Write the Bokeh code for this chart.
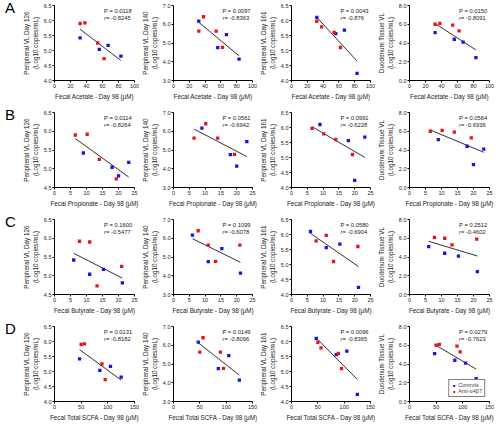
import numpy as np
from bokeh.plotting import figure
from bokeh.layouts import row, column
from bokeh.models import Div, Label, Range1d, FixedTicker, PrintfTickFormatter, Legend, LegendItem
from bokeh.embed import file_html
from bokeh.resources import INLINE

# ---- data (4 controls, 4 anti-a4b7 animals; same order in every array) ----
acetate_ctrl = [32, 56, 67, 83]
acetate_anti = [32, 38, 54, 62]
propionate_ctrl = [9, 18, 23.2, 20]
propionate_anti = [6.5, 10.2, 14, 19.3]
butyrate_ctrl = [6, 11, 15.3, 21.2]
butyrate_anti = [11, 7.8, 21, 13.3]
scfa_ctrl = [47, 85, 105, 125]
scfa_anti = [50, 56, 89, 95]

vl126_ctrl = [5.42, 5.04, 5.17, 4.81]
vl126_anti = [5.90, 5.92, 5.25, 4.73]
vl140_ctrl = [6.17, 4.75, 5.45, 4.14]
vl140_anti = [5.63, 6.40, 5.63, 4.77]
vl161_ctrl = [6.10, 5.56, 5.68, 4.24]
vl161_anti = [5.97, 5.79, 5.60, 5.10]
duo_ctrl = [5.10, 4.40, 4.10, 2.45]
duo_anti = [6.00, 6.10, 5.90, 5.30]

row_letters = ["A", "B", "C", "D"]
x_titles = ["Fecal Acetate - Day 98 (μM)", "Fecal Propionate - Day 98 (μM)",
            "Fecal Butyrate - Day 98 (μM)", "Fecal Total SCFA - Day 98 (μM)"]
x_ctrl = [acetate_ctrl, propionate_ctrl, butyrate_ctrl, scfa_ctrl]
x_anti = [acetate_anti, propionate_anti, butyrate_anti, scfa_anti]
x_ticks = [[0, 20, 40, 60, 80, 100], [0, 5, 10, 15, 20, 25],
           [0, 5, 10, 15, 20, 25], [0, 50, 100, 150]]

y_titles = ["Peripheral VL Day 126", "Peripheral VL Day 140",
            "Peripheral VL Day 161", "Duodenum Tissue VL"]
y_sub = "(Log10 copies/mL)"
y_ctrl = [vl126_ctrl, vl140_ctrl, vl161_ctrl, duo_ctrl]
y_anti = [vl126_anti, vl140_anti, vl161_anti, duo_anti]
y_ticks_rows = [
    [[4.0, 4.5, 5.0, 5.5, 6.0, 6.5], [3.0, 4.0, 5.0, 6.0, 7.0], [4.0, 4.5, 5.0, 5.5, 6.0, 6.5], [0.0, 2.0, 4.0, 6.0, 8.0]],
    [[4.5, 5.0, 5.5, 6.0, 6.5], [3.0, 4.0, 5.0, 6.0, 7.0], [4.0, 4.5, 5.0, 5.5, 6.0, 6.5], [0.0, 2.0, 4.0, 6.0, 8.0]],
    [[4.5, 5.0, 5.5, 6.0, 6.5], [3.0, 4.0, 5.0, 6.0, 7.0], [4.0, 4.5, 5.0, 5.5, 6.0, 6.5], [0.0, 2.0, 4.0, 6.0, 8.0]],
    [[4.0, 4.5, 5.0, 5.5, 6.0, 6.5], [3.0, 4.0, 5.0, 6.0, 7.0], [4.0, 4.5, 5.0, 5.5, 6.0, 6.5], [0.0, 2.0, 4.0, 6.0, 8.0]],
]
p_values = [["0.0118", "0.0097", "0.0043", "0.0150"],
            ["0.0114", "0.0561", "0.0991", "0.0564"],
            ["0.1600", "0.1099", "0.0580", "0.2512"],
            ["0.0131", "0.0149", "0.0096", "0.0279"]]
r_values = [["-0.8245", "-0.8363", "-0.876", "-0.8091"],
            ["-0.8264", "-0.6942", "-0.6228", "-0.6936"],
            ["-0.5477", "-0.6078", "-0.6904", "-0.4602"],
            ["-0.8182", "-0.8096", "-0.8365", "-0.7623"]]

series_names = ["Controls", "Anti-α4β7"]
BLUE = "#1414E6"
RED = "#E8141C"
FONT = "Liberation Sans"

widths = [119, 118, 118, 119]
H = 102

rows = []
for i in range(4):
    figs = [Div(text=row_letters[i], width=10, height=H,
                styles={"font-size": "15px", "font-family": FONT, "line-height": "15px",
                        "margin-top": "0px", "color": "#000"})]
    for j in range(4):
        xt = x_ticks[i]
        yt = y_ticks_rows[i][j]
        p = figure(width=widths[j], height=H, output_backend="svg", toolbar_location=None,
                   x_range=Range1d(xt[0], xt[-1]), y_range=Range1d(yt[0], yt[-1]),
                   min_border_left=24, min_border_right=5, min_border_top=5, min_border_bottom=22)
        p.xgrid.visible = False
        p.ygrid.visible = False
        p.outline_line_color = None
        p.background_fill_color = None
        p.border_fill_color = None
        for ax in (p.xaxis[0], p.yaxis[0]):
            ax.major_tick_in = 0
            ax.major_tick_out = 2
            ax.minor_tick_line_color = None
            ax.major_label_text_font = FONT
            ax.major_label_text_font_size = "5.5px"
            ax.major_label_standoff = 1
            ax.axis_label_text_font = FONT
            ax.axis_label_text_font_size = "6.3px"
            ax.axis_label_text_font_style = "normal"
            ax.axis_label_standoff = 2
            ax.axis_line_color = "#000"
            ax.major_tick_line_color = "#000"
            ax.major_label_text_color = "#222"
            ax.axis_label_text_color = "#222"
        p.xaxis[0].ticker = FixedTicker(ticks=xt)
        p.yaxis[0].ticker = FixedTicker(ticks=yt)
        p.yaxis[0].formatter = PrintfTickFormatter(format="%.1f")
        p.xaxis[0].formatter = PrintfTickFormatter(format="%d")
        p.xaxis[0].axis_label = x_titles[i]
        p.yaxis[0].axis_label = y_titles[j] + "\n" + y_sub

        # regression over all animals
        xa = np.array(x_ctrl[i] + x_anti[i], dtype=float)
        ya = np.array(y_ctrl[j] + y_anti[j], dtype=float)
        slope, icpt = np.polyfit(xa, ya, 1)
        lx = np.array([xa.min(), xa.max()])
        p.line(lx, slope * lx + icpt, line_color="#333333", line_width=1)

        rc = p.scatter(x_ctrl[i], y_ctrl[j], marker="square", size=3.3, fill_color=BLUE, line_color=None)
        ra = p.scatter(x_anti[i], y_anti[j], marker="square", size=3.3, fill_color=RED, line_color=None)

        xr = xt[-1] - xt[0]
        yr = yt[-1] - yt[0]
        lx0 = xt[0] + 0.62 * xr
        p.add_layout(Label(x=lx0, y=yt[-1] - 0.03 * yr, text="P = " + p_values[i][j],
                           text_font=FONT, text_font_size="5.8px", text_baseline="top", text_color="#222"))
        p.add_layout(Label(x=lx0, y=yt[-1] - 0.12 * yr, text="r",
                           text_font=FONT, text_font_size="5.8px", text_font_style="italic",
                           text_baseline="top", text_color="#222"))
        p.add_layout(Label(x=lx0, y=yt[-1] - 0.12 * yr, x_offset=2, text=" = " + r_values[i][j],
                           text_font=FONT, text_font_size="5.8px", text_baseline="top", text_color="#222"))

        if i == 3 and j == 3:
            leg = Legend(items=[LegendItem(label=series_names[0], renderers=[rc]),
                                LegendItem(label=series_names[1], renderers=[ra])],
                         location="bottom_right")
            leg.border_line_color = "#000"
            leg.border_line_width = 1
            leg.label_text_font = FONT
            leg.label_text_font_size = "5.5px"
            leg.label_height = 5
            leg.glyph_height = 5
            leg.glyph_width = 5
            leg.label_standoff = 2
            leg.padding = 2
            leg.spacing = 0
            leg.margin = 4
            leg.background_fill_alpha = 1
            p.add_layout(leg)
        figs.append(p)
    rows.append(row(*figs))

layout = column(*rows)
open("out.html", "w").write(file_html(layout, INLINE))
